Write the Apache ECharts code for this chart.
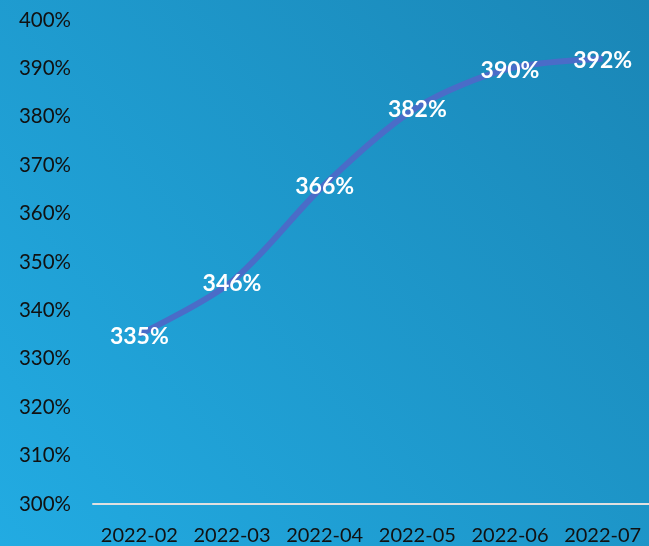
<!DOCTYPE html>
<html><head><meta charset="utf-8">
<script src="https://cdn.jsdelivr.net/npm/echarts@6/dist/echarts.min.js"></script>
<style>html,body{margin:0;padding:0;}#c{width:649px;height:546px;}</style>
</head><body><div id="c"></div>
<script>
const categories = ['2022-02','2022-03','2022-04','2022-05','2022-06','2022-07'];
const values = [335, 346, 366, 382, 390, 392];
const yMin = 300, yMax = 400, yStep = 10;

const chart = echarts.init(document.getElementById('c'));
chart.setOption({
  backgroundColor: new echarts.graphic.LinearGradient(0, 1, 1, 0, [
    {offset: 0, color: '#22abe2'},
    {offset: 1, color: '#1a86b6'}
  ]),
  grid: {left: 93, right: -6, top: 20, bottom: 41, containLabel: false},
  xAxis: {
    type: 'category', data: categories, boundaryGap: true,
    axisLine: {lineStyle: {color: '#e0e0e0', width: 2}},
    axisTick: {show: false},
    axisLabel: {color: '#111', fontSize: 20, fontFamily: 'Lato', margin: 22, interval: 0}
  },
  yAxis: {
    type: 'value', min: yMin, max: yMax, interval: yStep,
    axisLine: {show: false}, axisTick: {show: false}, splitLine: {show: false},
    axisLabel: {color: '#111', fontSize: 20.5, fontFamily: 'Lato', margin: 22, formatter: '{value}%'}
  },
  series: [{
    type: 'line', data: values, smooth: 0.3,
    symbol: 'circle', symbolSize: 0,
    lineStyle: {color: '#4a6cc8', width: 6},
    itemStyle: {color: '#4a6cc8'},
    label: {show: true, position: 'inside', offset: [0, 2], formatter: '{c}%', color: '#fff',
      fontSize: 23, fontWeight: 'bold', fontFamily: 'Lato'}
  }]
});
</script></body></html>
